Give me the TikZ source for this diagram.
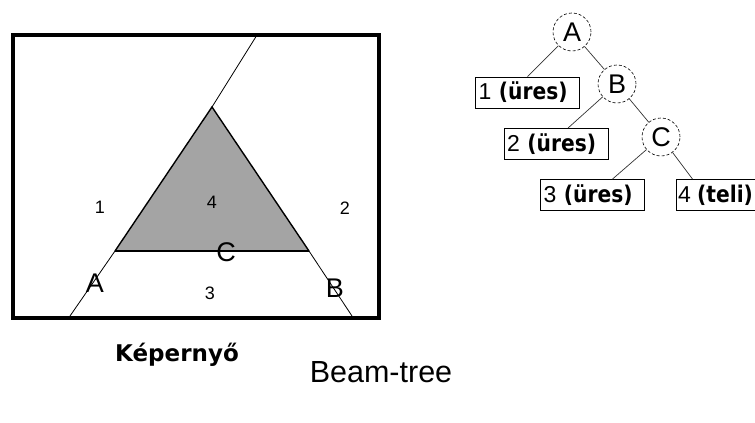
\documentclass[tikz,border=0pt]{standalone}
\usepackage{fontspec}
\setmainfont{Liberation Sans}
\newfontfamily\dv{DejaVu Sans}
\newfontfamily\dvc[FakeStretch=0.88]{DejaVu Sans}
\newcommand{\fs}[1]{\fontsize{#1}{#1}\selectfont}
\definecolor{fillgray}{HTML}{A4A4A4}
\tikzset{
  lbl/.style={inner sep=0pt, font=\fs{18}},
  biglbl/.style={inner sep=0pt, font=\fs{27}},
  tnode/.style={circle, draw, densely dashed, line width=0.6pt, minimum size=38pt, inner sep=0pt, font=\fs{27}},
  leaf/.style={rectangle, draw, line width=0.9pt, minimum height=31pt, inner xsep=3pt, inner ysep=0pt, align=left, font=\fs{23}},
  tedge/.style={line width=0.7pt, draw=black!80},
  thinline/.style={line width=0.8pt},
  triedge/.style={line width=1.4pt},
}
\begin{document}
\begin{tikzpicture}[x=1pt,y=-1pt]
\useasboundingbox (0,0) rectangle (755,423);
% screen
\coordinate (P) at (212,107);
\coordinate (L) at (115,251);
\coordinate (R) at (309,251);
\coordinate (Atop) at (257,35);
\coordinate (Abot) at (70,316);
\coordinate (Bbot) at (352,316);
\fill[fillgray] (P) -- (L) -- (R) -- cycle;
\draw[thinline] (Atop) -- (P);
\draw[thinline] (L) -- (Abot);
\draw[thinline] (R) -- (Bbot);
\draw[triedge] (L) -- (P) -- (R);
\draw[line width=2.4pt] (L) -- (R);
\draw[line width=4pt] (13,35) rectangle (379,318);
\node[lbl] (n1) at (100,207) {1};
\node[lbl] (n4) at (212,202) {4};
\node[lbl] (n2) at (345,208) {2};
\node[lbl] (n3) at (210,293) {3};
\node[biglbl] (la) at (95,283) {A};
\node[biglbl] (lc) at (226,252) {C};
\node[biglbl] (lb) at (335,288) {B};
\node[font=\dv\bfseries\fs{23}, inner sep=0pt] (cap) at (177,355) {Képernyő};
\node[font=\fs{30.5}, inner sep=0pt] (title) at (381,372) {Beam-tree};
% tree
\node[tnode] (A) at (572,32) {A};
\node[tnode] (B) at (617,84) {B};
\node[tnode] (C) at (661,137) {C};
\node[leaf, text width=98pt] (b1) at (527.5,92.5) {1 {\dvc\bfseries(üres)}};
\node[leaf, text width=98pt] (b2) at (556,144) {2 {\dvc\bfseries(üres)}};
\node[leaf, text width=98pt] (b3) at (592.5,195) {3 {\dvc\bfseries(üres)}};
\node[leaf, inner xsep=2pt, minimum width=77pt] (b4) at (715.5,195) {4 {\dvc\bfseries(teli)}};
\draw[tedge] (A) -- (b1.north);
\draw[tedge] (A) -- (B);
\draw[tedge] (B) -- ([xshift=12pt]b2.north);
\draw[tedge] (B) -- (C);
\draw[tedge] (C) -- ([xshift=20pt]b3.north);
\draw[tedge] (C) -- ([xshift=-23pt]b4.north);
\end{tikzpicture}
\end{document}
